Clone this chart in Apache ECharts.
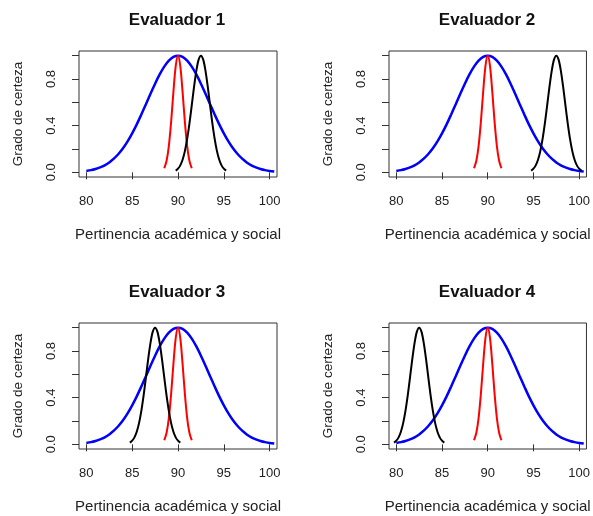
<!DOCTYPE html>
<html><head><meta charset="utf-8">
<script src="https://cdn.jsdelivr.net/npm/echarts@6/dist/echarts.min.js"></script>
<style>html,body{margin:0;padding:0;background:#fff}#c{width:593px;height:516px}</style>
</head><body><div id="c"></div>
<script>
// ---- data ----
const panelTitles = ["Evaluador 1", "Evaluador 2", "Evaluador 3", "Evaluador 4"];
const xAxisName = "Pertinencia académica y social";
const yAxisName = "Grado de certeza";
const xTickValues = [80, 85, 90, 95, 100];
const yTickValues = [0, 0.2, 0.4, 0.6, 0.8, 1.0];
const yLabelValues = [0, 0.4, 0.8];

// blue curve (same in all panels)
const blueX = [80, 80.5, 81, 81.5, 82, 82.5, 83, 83.5, 84, 84.5, 85, 85.5, 86, 86.5, 87, 87.5, 88, 88.5, 89, 89.5, 90,
  90.5, 91, 91.5, 92, 92.5, 93, 93.5, 94, 94.5, 95, 95.5, 96, 96.5, 97, 97.5, 98, 98.5, 99, 99.5, 100, 100.5];
const blueY = [0.012, 0.019, 0.029, 0.042, 0.060, 0.085, 0.117, 0.157, 0.206, 0.265, 0.334, 0.411, 0.496, 0.584, 0.674, 0.760, 0.839, 0.906, 0.957, 0.989, 1.000,
  0.989, 0.957, 0.906, 0.839, 0.760, 0.674, 0.584, 0.496, 0.411, 0.334, 0.265, 0.206, 0.157, 0.117, 0.085, 0.060, 0.042, 0.029, 0.019, 0.012, 0.008];

// red curve (same in all panels)
const redX = [88.5, 88.75, 89, 89.25, 89.5, 89.75, 90, 90.25, 90.5, 90.75, 91, 91.25, 91.5];
const redY = [0.035, 0.097, 0.225, 0.432, 0.689, 0.911, 1.000, 0.911, 0.689, 0.432, 0.225, 0.097, 0.035];

// black curve (evaluator), one per panel
const blackY = [0.015, 0.031, 0.060, 0.108, 0.182, 0.287, 0.420, 0.574, 0.732, 0.870, 0.966, 1.000,
  0.966, 0.870, 0.732, 0.574, 0.420, 0.287, 0.182, 0.108, 0.060, 0.031, 0.015];
const blackX1 = [89.75, 90, 90.25, 90.5, 90.75, 91, 91.25, 91.5, 91.75, 92, 92.25, 92.5, 92.75, 93, 93.25, 93.5, 93.75, 94, 94.25, 94.5, 94.75, 95, 95.25];
const blackX2 = [94.75, 95, 95.25, 95.5, 95.75, 96, 96.25, 96.5, 96.75, 97, 97.25, 97.5, 97.75, 98, 98.25, 98.5, 98.75, 99, 99.25, 99.5, 99.75, 100, 100.25];
const blackX3 = [84.75, 85, 85.25, 85.5, 85.75, 86, 86.25, 86.5, 86.75, 87, 87.25, 87.5, 87.75, 88, 88.25, 88.5, 88.75, 89, 89.25, 89.5, 89.75, 90, 90.25];
const blackX4 = [79.75, 80, 80.25, 80.5, 80.75, 81, 81.25, 81.5, 81.75, 82, 82.25, 82.5, 82.75, 83, 83.25, 83.5, 83.75, 84, 84.25, 84.5, 84.75, 85, 85.25];
const blackXs = [blackX1, blackX2, blackX3, blackX4];

// ---- layout ----
const FONT = "'Liberation Sans', Arial, sans-serif";
const panels = [
  {left: 79, top: 51}, {left: 389, top: 51},
  {left: 79, top: 323}, {left: 389, top: 323}
];
const GW = 198, GH = 126;
const zip = (xs, ys) => xs.map((x, i) => [x, ys[i]]);

const grid = [], xAxis = [], yAxis = [], series = [], graphic = [];
panels.forEach((p, i) => {
  grid.push({left: p.left, top: p.top, width: GW, height: GH, show: true,
    borderColor: '#333', borderWidth: 1, backgroundColor: 'transparent'});
  xAxis.push({
    gridIndex: i, type: 'value', min: 79.2, max: 100.8,
    axisLine: {show: false}, splitLine: {show: false},
    axisTick: {show: true, length: 7, customValues: xTickValues, lineStyle: {color: '#333'}},
    axisLabel: {customValues: xTickValues, fontSize: 13, color: '#222', margin: 18, fontFamily: FONT},
    name: xAxisName, nameLocation: 'middle', nameGap: 50,
    nameTextStyle: {fontSize: 15, color: '#222', fontFamily: FONT}
  });
  yAxis.push({
    gridIndex: i, type: 'value', min: -0.04, max: 1.04,
    axisLine: {show: false}, splitLine: {show: false},
    axisTick: {show: true, length: 7, customValues: yTickValues, lineStyle: {color: '#333'}},
    axisLabel: {customValues: yLabelValues, rotate: 90, fontSize: 13, color: '#222', margin: 21, fontFamily: FONT,
      formatter: v => v.toFixed(1)},
    name: yAxisName, nameLocation: 'middle', nameGap: 54,
    nameTextStyle: {fontSize: 13.5, color: '#222', fontFamily: FONT}
  });
  series.push({type: 'line', xAxisIndex: i, yAxisIndex: i, data: zip(blueX, blueY), smooth: 0.3,
    showSymbol: false, lineStyle: {color: '#0000ff', width: 2.5}, z: 2});
  series.push({type: 'line', xAxisIndex: i, yAxisIndex: i, data: zip(redX, redY), smooth: 0.3,
    showSymbol: false, lineStyle: {color: '#ff0000', width: 2}, z: 3});
  series.push({type: 'line', xAxisIndex: i, yAxisIndex: i, data: zip(blackXs[i], blackY), smooth: 0.3,
    showSymbol: false, lineStyle: {color: '#000000', width: 2}, z: 4});
  graphic.push({type: 'text', x: p.left + GW / 2 - 1, y: p.top - 31,
    style: {text: panelTitles[i], font: 'bold 17px ' + FONT, fill: '#111', textAlign: 'center', textVerticalAlign: 'middle'}});
});

const chart = echarts.init(document.getElementById('c'));
chart.setOption({animation: false, grid, xAxis, yAxis, series, graphic});
</script>
</body></html>
